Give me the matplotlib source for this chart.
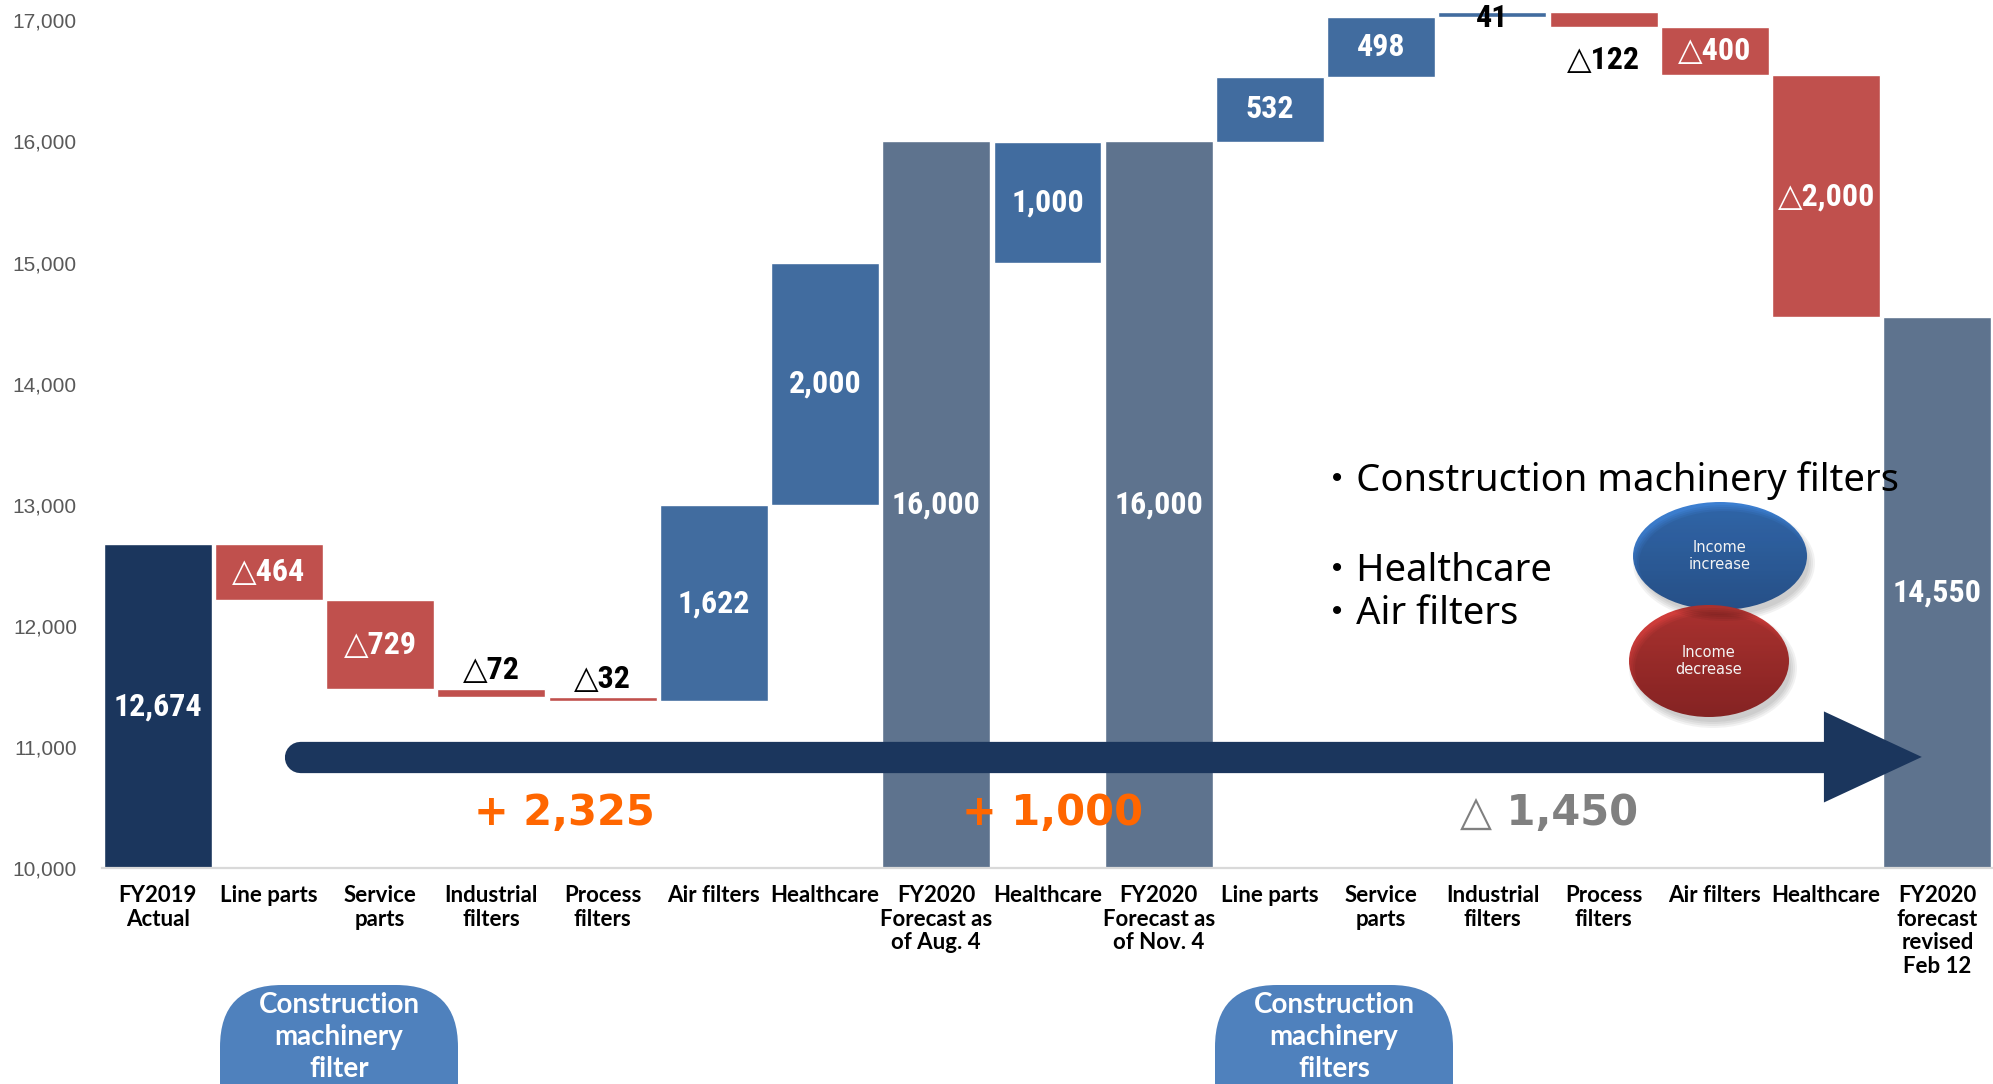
import numpy as np
import matplotlib.pyplot as plt
from matplotlib import font_manager
from matplotlib.patches import Ellipse, FancyBboxPatch, Polygon
from matplotlib.colors import LinearSegmentedColormap

# ---- data -------------------------------------------------------------
categories = ["FY2019\nActual", "Line parts", "Service\nparts", "Industrial\nfilters",
              "Process\nfilters", "Air filters", "Healthcare", "FY2020\nForecast as\nof Aug. 4",
              "Healthcare", "FY2020\nForecast as\nof Nov. 4", "Line parts", "Service\nparts",
              "Industrial\nfilters", "Process\nfilters", "Air filters", "Healthcare",
              "FY2020\nforecast\nrevised\nFeb 12"]
values = [12674, -464, -729, -72, -32, 1622, 2000, 16000, 1000, 16000,
          532, 498, 41, -122, -400, -2000, 14550]
is_total = [True, False, False, False, False, False, False, True, False, True,
            False, False, False, False, False, False, True]
# where each value label sits relative to its bar
label_pos = ["in", "in", "in", "above", "above", "in", "in", "in", "in", "in",
             "in", "in", "on", "below", "in", "in", "in"]

segment_changes = [2325, 1000, -1450]
bullets = ["Construction machinery filters", "Healthcare", "Air filters"]
group_labels = ["Construction\nmachinery\nfilter", "Construction\nmachinery\nfilters"]
y_ticks = [10000, 11000, 12000, 13000, 14000, 15000, 16000, 17000]

# ---- styling ----------------------------------------------------------
NAVY = "#1B365D"
TOTAL = "#5E738E"
UP = "#416C9F"
DOWN = "#C0504D"
ORANGE = "#FF6600"

installed = {f.name for f in font_manager.fontManager.ttflist}
narrow = next((n for n in ["Liberation Sans Narrow", "Roboto Condensed", "Open Sans Condensed"]
               if n in installed), None)
if narrow:
    num_font, num_size = [narrow, "DejaVu Sans"], 23
else:
    num_font, num_size = ["Liberation Sans", "DejaVu Sans"], 20.5


def fmt(v):
    return f"{v:,}" if v >= 0 else f"\u25b3{-v:,}"


fig = plt.figure(figsize=(19.93, 10.84), dpi=100)
ax = fig.add_axes([102 / 1993, 216 / 1084, 1 - 102 / 1993, 868 / 1084])

# running total follows the deltas, totals are drawn at their own value
running = values[0]
bottoms, heights, colors = [], [], []
for i, (v, tot) in enumerate(zip(values, is_total)):
    if tot:
        bottoms.append(0)
        heights.append(v)
        colors.append(NAVY if i == 0 else TOTAL)
    else:
        bottoms.append(running if v > 0 else running + v)
        heights.append(abs(v))
        colors.append(UP if v > 0 else DOWN)
        running += v

x = np.arange(len(categories))
ax.bar(x, heights, bottom=bottoms, width=0.97, color=colors, edgecolor="white",
       linewidth=1, zorder=2)

ax.set_xlim(-0.5, 16.5)
ax.set_ylim(10000, 17168)

# value labels
for i, v in enumerate(values):
    b, h = bottoms[i], heights[i]
    if is_total[i]:
        y, col = (10000 + v) / 2, "white"
    elif label_pos[i] == "in":
        y, col = b + h / 2, "white"
    elif label_pos[i] == "above":
        y, col = b + h + 150, "black"
    elif label_pos[i] == "below":
        y, col = b - 275, "black"
    else:
        y, col = b + h / 2 - 30, "black"
    ax.text(i, y, fmt(v), ha="center", va="center", color=col, fontsize=num_size,
            fontweight="bold", family=num_font, zorder=5)

# long arrow across the chart
arrow_y = 10917
ax.plot([1.28, 15.0], [arrow_y, arrow_y], color=NAVY, lw=22.5,
        solid_capstyle="round", zorder=3)
ax.add_patch(Polygon([[14.98, arrow_y - 376], [15.86, arrow_y], [14.98, arrow_y + 376]],
                     closed=True, color=NAVY, lw=0, zorder=3))

# segment changes under the arrow
for xpos, chg in zip([3.66, 8.05, 12.51], segment_changes):
    txt = f"+ {chg:,}" if chg > 0 else f"\u25b3 {-chg:,}"
    ax.text(xpos, 10454, txt, ha="center", va="center", fontsize=30,
            fontweight="bold", family="DejaVu Sans",
            color=ORANGE if chg > 0 else "#808080", zorder=4)

# axes cosmetics
for s in ["top", "right", "left"]:
    ax.spines[s].set_visible(False)
ax.spines["bottom"].set_color("#D9D9D9")
ax.spines["bottom"].set_linewidth(1.6)
ax.set_xticks(x)
ax.set_xticklabels(categories, fontsize=16, fontweight="bold", family="Lato",
                   linespacing=1.15)
ax.set_yticks(y_ticks)
ax.set_yticklabels([f"{t:,}" for t in y_ticks], fontsize=15, color="#595959",
                   family="Liberation Sans")
ax.tick_params(axis="x", length=0, pad=12.5)
ax.tick_params(axis="y", length=0, pad=18)
ax.patch.set_alpha(0)

# ---- overlay in pixel units for the notes ------------------------------
deco = fig.add_axes([0, 0, 1, 1])
deco.axis("off")

for txt, yb in zip(bullets, [491, 581, 624]):
    deco.text(1318, yb, "\u30fb" + txt, fontsize=27.5, va="baseline", ha="left",
              family=["Noto Sans", "Noto Sans CJK JP"], color="black")


def gradient_ellipse(cx, cy, w, h, top, bottom, label):
    for k in range(4):
        deco.add_patch(Ellipse((cx + 4, cy + 7), w + 8 - 4 * k, h + 8 - 4 * k,
                               color="black", alpha=0.05, lw=0))
    el = Ellipse((cx, cy), w, h, facecolor="none", edgecolor="none")
    deco.add_patch(el)
    cmap = LinearSegmentedColormap.from_list("grad", [top, bottom])
    im = deco.imshow(np.linspace(0, 1, 256)[:, None], cmap=cmap, aspect="auto",
                     extent=(cx - w / 2, cx + w / 2, cy + h / 2, cy - h / 2),
                     origin="upper")
    im.set_clip_path(el)
    deco.text(cx, cy, label, ha="center", va="center", fontsize=10.5,
              color="#F4F4F4", family="DejaVu Sans", linespacing=1.1)


gradient_ellipse(1720, 556, 174, 108, "#3D80D2", "#3264A8", "Income\nincrease")
gradient_ellipse(1709, 661, 160, 112, "#D43F3C", "#A62E2E", "Income\ndecrease")

for cx, label in zip([339, 1334], group_labels):
    deco.add_patch(FancyBboxPatch((cx - 119, 985), 238, 170,
                                  boxstyle="round,pad=0,rounding_size=62",
                                  fc="#4F81BD", ec="none"))
    deco.text(cx, 1037, label, ha="center", va="center", fontsize=20,
              fontweight="bold", family="Lato", color="white", linespacing=1.3)

deco.set_xlim(0, 1993)
deco.set_ylim(1084, 0)

fig.savefig("out.png", dpi=100)
